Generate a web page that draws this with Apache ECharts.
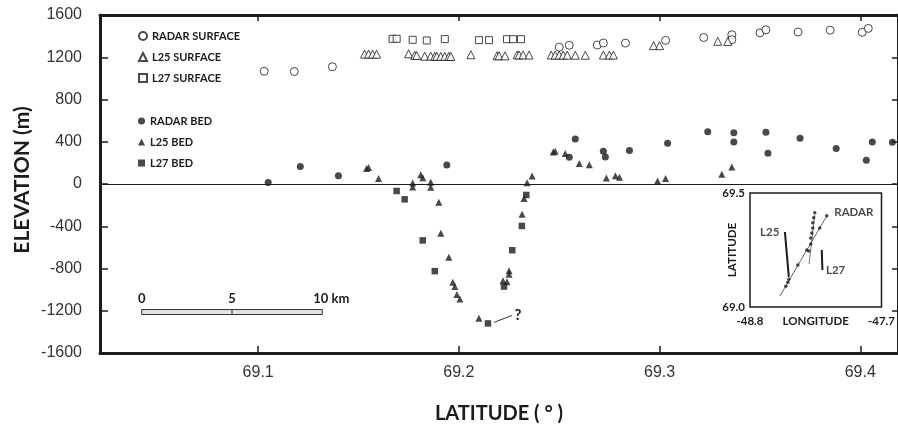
<!DOCTYPE html>
<html><head><meta charset="utf-8">
<script src="https://cdn.jsdelivr.net/npm/echarts@6/dist/echarts.min.js"></script>
<style>html,body{margin:0;padding:0;background:#fff;}#c{width:898px;height:429px;}</style>
</head><body><div id="c"></div>
<script>
// ---- main profile data: [latitude (deg), elevation (m)] ----
const radarSurface = [[69.103,1067],[69.118,1065],[69.137,1110],[69.250,1296],[69.255,1314],[69.269,1316],[69.272,1335],[69.283,1334],[69.303,1360],[69.322,1387],[69.336,1413],[69.336,1366],[69.350,1431],[69.353,1460],[69.369,1439],[69.385,1456],[69.401,1436],[69.404,1473]];
const l25Surface = [[69.153,1230],[69.155,1230],[69.157,1229],[69.159,1229],[69.175,1233],[69.178,1218],[69.179,1217],[69.183,1210],[69.186,1210],[69.188,1209],[69.189,1209],[69.191,1208],[69.193,1208],[69.195,1208],[69.196,1207],[69.206,1224],[69.219,1214],[69.220,1214],[69.223,1213],[69.229,1222],[69.230,1222],[69.232,1222],[69.235,1221],[69.246,1221],[69.248,1220],[69.250,1220],[69.252,1220],[69.254,1220],[69.258,1219],[69.263,1219],[69.272,1221],[69.275,1221],[69.277,1221],[69.297,1310],[69.300,1310],[69.329,1351],[69.334,1350]];
const l27Surface = [[69.167,1375],[69.169,1375],[69.177,1365],[69.184,1359],[69.193,1372],[69.210,1362],[69.215,1362],[69.224,1371],[69.227,1371],[69.231,1371]];
const radarBed = [[69.105,15],[69.121,166],[69.140,79],[69.194,180],[69.255,254],[69.258,427],[69.272,309],[69.273,255],[69.285,317],[69.304,385],[69.324,494],[69.337,486],[69.337,398],[69.353,491],[69.354,292],[69.370,433],[69.388,336],[69.403,224],[69.406,397],[69.416,396]];
const l25Bed = [[69.154,146],[69.155,156],[69.160,51],[69.177,9],[69.177,-29],[69.181,87],[69.182,59],[69.186,17],[69.186,-30],[69.190,-172],[69.191,-466],[69.195,-693],[69.197,-930],[69.198,-971],[69.199,-1047],[69.2005,-1089],[69.210,-1272],[69.222,-917],[69.224,-926],[69.225,-822],[69.225,-854],[69.2325,-138],[69.2315,-287],[69.234,13],[69.2365,76],[69.247,302],[69.248,311],[69.253,288],[69.260,193],[69.265,183],[69.2735,56],[69.278,78],[69.280,63],[69.299,28],[69.303,53],[69.331,92],[69.336,161]];
const l27Bed = [[69.169,-66],[69.173,-145],[69.182,-534],[69.188,-825],[69.2145,-1320],[69.2225,-971],[69.2266,-627],[69.2314,-397],[69.2336,-104]];
const latTicks = [69.1, 69.2, 69.3, 69.4];
// scale bar (km) anchored at its start [lat, elev]
const scaleKm = [0, 5, 10];
const scaleStart = [69.042, -1217];
const kmPerDegLat = 111.2;
// ---- inset map data: [longitude, latitude] ----
const insetRadarTrack = [[-48.55,69.048],[-48.158,69.399]];
const insetL25Track = [[-48.508,69.329],[-48.475,69.132]];
const insetL27Track = [[-48.200,69.250],[-48.194,69.162]];
const insetProfileLine = [[-48.306,69.189],[-48.258,69.404]];
const insetPoints = [[-48.5,69.091],[-48.483,69.109],[-48.475,69.122],[-48.4,69.184],[-48.325,69.25],[-48.308,69.246],[-48.292,69.276],[-48.292,69.303],[-48.283,69.325],[-48.275,69.347],[-48.275,69.369],[-48.267,69.391],[-48.258,69.413],[-48.217,69.347],[-48.158,69.4]];
const insetLonTicks = [-48.8, -47.7];
const insetLatTicks = [69.0, 69.5];

const INK = '#1c1c1c';
const titleFont = {fontFamily:'Lato', fontWeight:'bold', color:INK};
const chart = echarts.init(document.getElementById('c'), null, {renderer:'canvas'});
const deepest = l27Bed.reduce((a,b)=> b[1] < a[1] ? b : a);

const open = (sym, size) => ({type:'scatter', symbol:sym, symbolSize:size, xAxisIndex:0, yAxisIndex:0,
  itemStyle:{color:'#fff', borderColor:INK, borderWidth:1}, z:3});
const filled = (sym, size) => ({type:'scatter', symbol:sym, symbolSize:size, xAxisIndex:0, yAxisIndex:0,
  itemStyle:{color:INK}, z:4});
const legendText = {fontFamily:'Lato', fontWeight:'bold', fontSize:11, lineHeight:12, color:INK};

const option = {
  animation:false,
  backgroundColor:'#fff',
  grid:[
    {left:100, right:-4, top:15, bottom:76},
    {left:750, top:193, width:132, height:114, show:true, borderColor:INK, borderWidth:1.5, backgroundColor:'#fff', z:5}
  ],
  legend:[
    {data:['RADAR SURFACE','L25 SURFACE','L27 SURFACE'], orient:'vertical', left:133, top:25, itemWidth:8, itemHeight:8, itemGap:9, selectedMode:false, textStyle:legendText},
    {data:['RADAR BED','L25 BED','L27 BED'], orient:'vertical', left:133, top:110, itemWidth:7, itemHeight:7, itemGap:9, selectedMode:false, textStyle:legendText}
  ],
  xAxis:[
    {gridIndex:0, type:'value', min:69.0212, max:69.4188, position:'bottom',
     axisLine:{onZero:false, lineStyle:{color:INK, width:3}},
     axisTick:{inside:true, length:7, customValues:latTicks, lineStyle:{color:INK, width:1.5}},
     axisLabel:{customValues:latTicks, formatter:v=>v.toFixed(1), fontFamily:'Liberation Sans', fontSize:16, color:'#333', margin:12},
     splitLine:{show:false},
     name:'LATITUDE ( ° )', nameLocation:'middle', nameGap:51, nameMoveOverlap:false, nameTextStyle:Object.assign({fontSize:20}, titleFont)},
    {gridIndex:0, type:'value', min:69.0212, max:69.4188, position:'top',
     axisLine:{onZero:false, lineStyle:{color:INK, width:3}},
     axisTick:{inside:true, length:6, customValues:latTicks, lineStyle:{color:INK, width:1.5}},
     axisLabel:{show:false}, splitLine:{show:false}},
    {gridIndex:1, type:'value', min:-48.8, max:-47.7,
     axisLine:{show:false, onZero:false}, axisTick:{show:false}, splitLine:{show:false},
     axisLabel:{customValues:insetLonTicks, formatter:v=>v.toFixed(1), fontFamily:'Lato', fontWeight:'bold', fontSize:11.5, color:INK, margin:8},
     name:'LONGITUDE', nameLocation:'middle', nameGap:8, nameMoveOverlap:false, nameTextStyle:Object.assign({fontSize:11.5}, titleFont)}
  ],
  yAxis:[
    {gridIndex:0, type:'value', min:-1600, max:1600, interval:400, position:'left',
     axisLine:{show:true, onZero:false, lineStyle:{color:INK, width:3}},
     axisTick:{show:true, inside:true, length:8, lineStyle:{color:INK, width:1.5}},
     axisLabel:{formatter:v=>String(v), fontFamily:'Liberation Sans', fontSize:16, color:'#333', margin:18},
     splitLine:{show:false},
     name:'ELEVATION (m)', nameLocation:'middle', nameGap:67, nameMoveOverlap:false, nameTextStyle:Object.assign({fontSize:21, padding:[0,0,0,8]}, titleFont)},
    {gridIndex:0, type:'value', min:-1600, max:1600, interval:400, position:'right',
     axisLine:{show:true, onZero:false, lineStyle:{color:INK, width:3}},
     axisTick:{show:true, inside:true, length:6, lineStyle:{color:INK, width:1.5}},
     axisLabel:{show:false}, splitLine:{show:false}},
    {gridIndex:1, type:'value', min:69.0, max:69.5,
     axisLine:{show:false, onZero:false}, axisTick:{show:false}, splitLine:{show:false},
     axisLabel:{customValues:insetLatTicks, formatter:v=>v.toFixed(1), fontFamily:'Lato', fontWeight:'bold', fontSize:11.5, color:INK, margin:5},
     name:'LATITUDE', nameLocation:'middle', nameGap:12, nameMoveOverlap:false, nameTextStyle:Object.assign({fontSize:11.5}, titleFont)}
  ],
  series:[
    Object.assign(open('circle', 8), {name:'RADAR SURFACE', data:radarSurface}),
    Object.assign(open('triangle', 8), {name:'L25 SURFACE', data:l25Surface}),
    Object.assign(open('rect', 7), {name:'L27 SURFACE', data:l27Surface}),
    Object.assign(filled('circle', 7), {name:'RADAR BED', data:radarBed,
      markLine:{silent:true, symbol:['none','none'], label:{show:false}, lineStyle:{color:INK, width:1, type:'solid'}, data:[{yAxis:0}]}}),
    Object.assign(filled('triangle', 7), {name:'L25 BED', data:l25Bed}),
    Object.assign(filled('rect', 6.5), {name:'L27 BED', data:l27Bed}),
    // scale bar
    {type:'custom', xAxisIndex:0, yAxisIndex:0, silent:true, data:[scaleStart], z:2,
     renderItem:(params, api)=>{
       const lat0 = api.value(0), el = api.value(1);
       const pts = scaleKm.map(k=>api.coord([lat0 + k/kmPerDegLat, el]));
       const p0 = pts[0], pe = pts[pts.length-1];
       const children = [
         {type:'rect', shape:{x:p0[0], y:p0[1]-3, width:pe[0]-p0[0], height:5}, style:{fill:'#e4e4e4', stroke:'#333', lineWidth:1}}
       ];
       pts.slice(1,-1).forEach(p=>children.push({type:'line', shape:{x1:p[0], y1:p[1]-3, x2:p[0], y2:p[1]+2}, style:{stroke:'#333', lineWidth:1}}));
       pts.forEach((p,i)=>{
         const last = i===pts.length-1;
         children.push({type:'text', x:last ? p[0]-9 : p[0], y:p[1]-14,
           style:{text: last ? scaleKm[i]+' km' : String(scaleKm[i]), align:last?'left':'center', verticalAlign:'middle',
                  font:'bold 13px Lato', fill:INK}});
       });
       return {type:'group', children};
     }},
    // question mark at the deepest L27 bed point
    {type:'custom', xAxisIndex:0, yAxisIndex:0, silent:true, data:[deepest], z:2,
     renderItem:(params, api)=>{
       const p = api.coord([api.value(0), api.value(1)]);
       return {type:'group', children:[
         {type:'line', shape:{x1:p[0]+6, y1:p[1]-1, x2:p[0]+24, y2:p[1]-8}, style:{stroke:'#333', lineWidth:1}},
         {type:'text', x:p[0]+30, y:p[1]-8, style:{text:'?', align:'center', verticalAlign:'middle', font:'bold 15px Lato', fill:INK}}
       ]};
     }},
    // inset map
    {type:'line', xAxisIndex:2, yAxisIndex:2, data:insetRadarTrack, symbol:'none', lineStyle:{color:'#666', width:1}, z:6},
    {type:'line', xAxisIndex:2, yAxisIndex:2, data:insetL25Track, symbol:'none', lineStyle:{color:INK, width:2}, z:6},
    {type:'line', xAxisIndex:2, yAxisIndex:2, data:insetL27Track, symbol:'none', lineStyle:{color:INK, width:2}, z:6},
    {type:'line', xAxisIndex:2, yAxisIndex:2, data:insetProfileLine, symbol:'none', lineStyle:{color:'#555', width:0.8}, z:6},
    {type:'scatter', xAxisIndex:2, yAxisIndex:2, data:insetPoints, symbol:'circle', symbolSize:3.5, itemStyle:{color:INK}, z:7},
    {type:'scatter', xAxisIndex:2, yAxisIndex:2, symbolSize:1, itemStyle:{color:'rgba(0,0,0,0)'}, z:7,
     label:{show:true, fontFamily:'Lato', fontWeight:'bold', fontSize:11.5, color:INK},
     data:[
       {value:insetRadarTrack[1], label:{formatter:'RADAR', position:'right', distance:7, offset:[0,-4]}},
       {value:insetL25Track[0], label:{formatter:'L25', position:'left', distance:5}},
       {value:insetL27Track[1], label:{formatter:'L27', position:'right', distance:3}}
     ]}
  ]
};
chart.setOption(option);
</script></body></html>
